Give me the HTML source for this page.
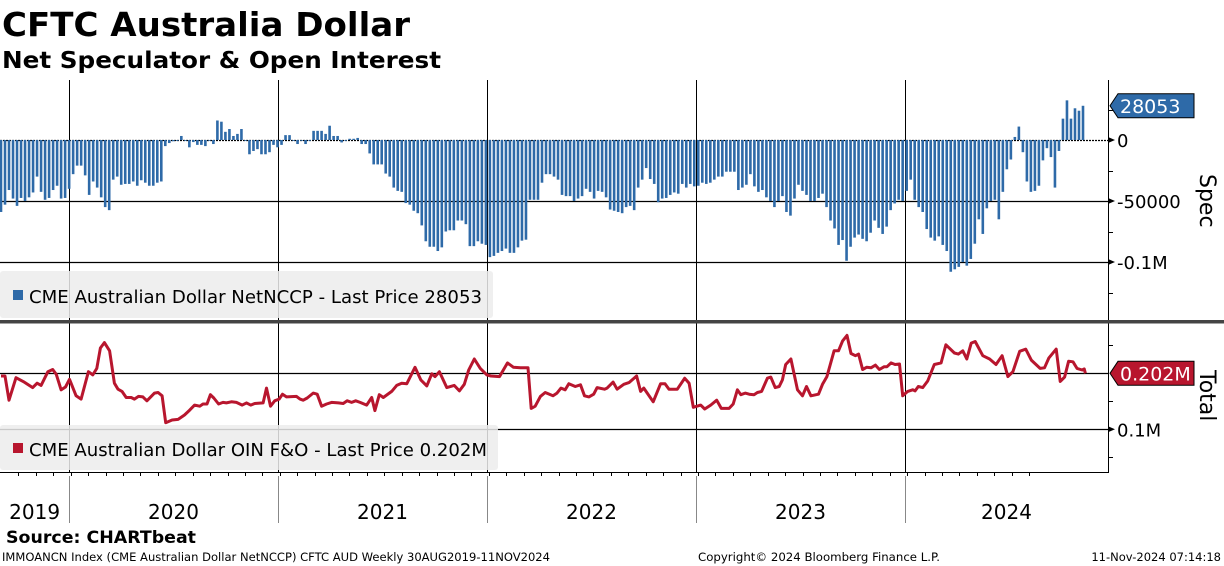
<!DOCTYPE html>
<html><head><meta charset="utf-8"><style>
html,body{margin:0;padding:0;background:#fff;}
svg{display:block;font-family:"DejaVu Sans","Liberation Sans",sans-serif;}
</style></head><body>
<svg id="chart" width="1224" height="566" viewBox="0 0 1224 566" xmlns="http://www.w3.org/2000/svg">
<rect width="1224" height="566" fill="#fff"/>
<text x="2" y="36" font-size="33" font-weight="bold" textLength="408" lengthAdjust="spacingAndGlyphs">CFTC Australia Dollar</text>
<text x="2" y="68" font-size="23" font-weight="bold" textLength="439" lengthAdjust="spacingAndGlyphs">Net Speculator &amp; Open Interest</text>
<g id="grid"></g>
<g id="bars"></g>
<g id="line"></g>
<g>
<rect x="0" y="271" width="493" height="47" rx="3" fill="#ececec" fill-opacity="0.85"/>
<rect x="13" y="290" width="10" height="10" fill="#2e6aa8"/>
<text x="29" y="303" font-size="18" textLength="453" lengthAdjust="spacingAndGlyphs">CME Australian Dollar NetNCCP - Last Price 28053</text>
</g>
<g>
<rect x="0" y="425" width="498" height="45" rx="3" fill="#ececec" fill-opacity="0.85"/>
<rect x="13" y="443" width="10" height="10" fill="#b8162e"/>
<text x="29" y="456" font-size="18" textLength="458" lengthAdjust="spacingAndGlyphs">CME Australian Dollar OIN F&amp;O - Last Price 0.202M</text>
</g>
<g id="axes"></g>
<rect x="0" y="320" width="1224" height="3.5" fill="#444"/>
<text x="6" y="543" font-size="17" font-weight="bold" textLength="190" lengthAdjust="spacingAndGlyphs">Source: CHARTbeat</text>
<text x="2" y="561" font-size="11.5" textLength="548" lengthAdjust="spacingAndGlyphs">IMMOANCN Index (CME Australian Dollar NetNCCP) CFTC AUD  Weekly 30AUG2019-11NOV2024</text>
<text x="698" y="561" font-size="11.5" textLength="242" lengthAdjust="spacingAndGlyphs">Copyright© 2024 Bloomberg Finance L.P.</text>
<text x="1221" y="561" font-size="11.5" text-anchor="end">11-Nov-2024 07:14:18</text>
</svg>
<script>
const specValues = [-59,-53,-41,-48,-54,-47.5,-50,-47,-43,-30,-42.5,-49,-47.5,-41,-37.5,-48,-47.5,-40,-28,-21,-21,-29,-45,-34,-39,-47,-55,-57.5,-32.5,-30,-36.7,-36,-36,-34,-37.5,-33,-35,-37.5,-37.5,-35,-34,-5,-2.5,-1,-0.5,3.3,0,-6,-1.7,-4,-4,-5,0,-3.3,16,15,6.7,9,3.3,5,9,0,-11.7,-9,-7.5,-11.7,-11.7,-10,-4,-6,-4,4,4,0,-3.3,
0,-3.3,0,7.5,7.5,7.5,5,11.7,3.3,3.3,-2,0,1,1,1.7,-3.3,-3.3,-11,-20,-20,-20,-27.5,-30,-39,-41.7,-42.5,-51.7,-53,-58,-60,-70,-83,-87.5,-87.5,-91,-88,-75,-74,-74,-66,-66,-69,-87,-87,-83,-85,-86,-96,-95,-92.5,-91,-89,-92.5,-92.5,-88,-82.5,-81.7,-49,-49,-49,-35,-28,-28,-30,-32.5,-45,-46,-46,-50,-48,-46,-40,
-42.5,-48,-41.7,-42.5,-47,-57,-58,-59,-60,-55,-54,-57.5,-39,-32.5,-23,-32,-36,-51,-48,-47.5,-45,-43,-44,-36,-39,-36,-38,-37.5,-35,-36,-35,-32.5,-30,-30,-26,-26,-26,-41,-39,-36.7,-28,-38,-42.5,-41,-47,-50,-55,-50,-46,-59,-62,-48,-36.7,-41.7,-45,-50,-50,-47.5,-44,-55,-66,-72.5,-86,-82,-99,-87.5,-80,-77.5,-81,-83,-76,-66,-72,
-77,-71,-57.5,-52,-49,-50,-41.7,-32.5,-49,-55,-59,-73,-80,-82.5,-79,-86,-91,-108,-106,-104,-100,-103,-97.5,-85,-65,-77,-56,-50,-49,-65,-42.5,-24,-16,2.5,11,-10,-34,-42.5,-41.7,-37.5,-16.7,-6.7,-14,-39,-9,17.5,32.5,17.5,26,24,28.053];
const oiWeeks = [0,1,2,3.75,5.8,7.9,9,10,11.7,12.9,13.8,15,16.1,17.1,18.75,20,21.8,22.9,23.9,24.8,25.8,27.1,28.3,29.2,30.2,31.25,32.5,33.3,34.3,35.4,36.4,38.3,39.2,40.2,41.1,42.7,44.2,45.8,47.1,48.3,49.6,50.4,51.4,52.25,53.1,54.3,55.4,56.25,57.5,58.75,60.2,61.25,62.3,63.3,65.4,66.25,67.25,68.3,69.4,70.25,71.25,73.75,74.6,75.4,76.4,77.9,78.9,80,81.25,82.5,84.2,85.4,86.4,87.5,88.5,89.6,91.25,92.5,
93.3,94.4,95.4,97.5,98.75,100,101.25,103.3,104.75,106.25,107.5,108.3,109.4,111.25,113.1,114.4,115.6,116.7,118.1,119.6,121.25,122.25,124.4,126.4,127.9,129.6,131.5,132.3,133.3,134.6,135.8,137.75,138.75,139.75,140.8,141.7,143.3,144.6,145.6,146.7,147.9,148.75,150.6,151.25,152.75,153.75,155.4,156.7,158.6,159.6,160.4,162.75,164.6,165.7,166.7,168.75,170.6,171.7,172.75,174.6,175.6,177.1,178.6,179.75,181.7,182.7,183.75,
184.6,185.7,186.7,187.9,188.75,189.8,191.25,192.1,193.2,194.2,195,195.8,197.1,198.75,200,201,202.1,204,205,206.1,207.9,209,210,211.1,212.1,213.2,214,215,216,217.1,218.2,219.2,220.4,221.1,222.1,223.1,224.2,225,226.25,227.5,228.1,228.9,230,231.25,232.9,234.6,235.8,237.9,238.9,240,241,242.1,243.1,245,246.7,248.3,249.8,251.25,252.5,254.2,255.7,257.1,259.3,260.4,261.5,263.3,264.3,265.4,266.4,267.5,268.5,269.8,270.3,270.6];
const oiValues = [197,197,153,194,186,176,184,180,205,209,200,172,177,191,161,155,205,199,211,248,258,243,184,173,169,158,158,155,160,159,152,166,167,161,112,117,118,126,135,144,142,146,146,163,157,146,149,148,150,149,144,148,144,147,148,175,142,152,155,164,159,160,155,153,157,166,164,142,146,149,148,147,152,149,152,149,144,158,
134,163,158,169,180,184,183,213,190,179,201,196,205,176,180,170,182,208,228,211,199,197,196,221,213,212,212,138,142,160,167,161,166,175,172,183,178,181,161,159,164,176,173,175,186,173,182,185,197,169,175,150,183,183,173,173,193,184,140,144,137,144,153,138,138,146,172,
163,166,164,163,167,169,193,195,176,178,190,218,228,172,161,178,161,164,182,196,243,243,261,271,238,234,237,209,213,212,217,209,214,214,221,218,219,161,169,172,170,178,176,188,218,221,254,239,237,243,228,257,260,234,228,218,234,196,205,242,246,226,211,212,230,246,187,195,224,223,211,208,210,202];
const yearLabels = ["2019","2020","2021","2022","2023","2024"];
const yearStartWeeks = [-17.4,17.0,69.1,121.3,173.4,225.6];
const specTicks = [0,-50,-100];
const specTickLabels = ["0","-50000","-0.1M"];
const oiTicks = [202,100];
const oiTickLabels = ["0.202M","0.1M"];

const NS="http://www.w3.org/2000/svg";
const X0=1, X1=1083, AX=1108;
const nW = specValues.length-1;
function xScale(w){return X0 + w*(X1-X0)/nW;}
function ySpec(v){return 140 - v*1.22;}
function yOi(v){return 373.3 - (v-202)*0.549;}
function mk(tag,attrs,parent){const e=document.createElementNS(NS,tag);for(const k in attrs)e.setAttribute(k,attrs[k]);parent.appendChild(e);return e;}

const grid=document.getElementById('grid');
yearStartWeeks.forEach((w,i)=>{
  if(i===0) return;
  const x=Math.round(xScale(w))+0.5;
  const l=mk('line',{x1:x,x2:x,y1:80,y2:472,stroke:'#000','stroke-width':1},grid);
  
  
  const s=mk('line',{x1:x,x2:x,y1:476,y2:523,stroke:'#888','stroke-width':1},grid);
  
  
});
specTicks.forEach((v)=>{
  const y=Math.round(ySpec(v))+0.5;
  const l=mk('line',{x1:0,x2:AX,y1:y,y2:y,stroke:'#000','stroke-width':1.3},grid);
  if(v===0) l.setAttribute('stroke-dasharray','2,1');
  
  
});
oiTicks.forEach((v)=>{
  const y=Math.round(yOi(v))+0.5;
  const l=mk('line',{x1:0,x2:AX,y1:y,y2:y,stroke:'#000','stroke-width':1.3},grid);
  
  
});

const bars=document.getElementById('bars');
specValues.forEach((v,i)=>{
  const x=xScale(i);
  const y0=ySpec(0), y1=ySpec(v);
  const r=mk('rect',{x:(x-1.3).toFixed(2),y:Math.min(y0,y1).toFixed(2),width:2.6,height:Math.max(0.8,Math.abs(y1-y0)).toFixed(2),fill:'#2e6aa8'},bars);
  
  
});

const lg=document.getElementById('line');
const pts=oiWeeks.map((w,i)=>xScale(w).toFixed(1)+','+yOi(oiValues[i]).toFixed(1)).join(' ');
const pl=mk('polyline',{points:pts,fill:'none',stroke:'#b8162e','stroke-width':3,'stroke-linejoin':'round'},lg);



const ax=document.getElementById('axes');
const a1=mk('line',{x1:AX+0.5,x2:AX+0.5,y1:80,y2:320,stroke:'#000','stroke-width':1},ax);


const a2=mk('polyline',{points:`0,472.5 ${AX+0.5},472.5 ${AX+0.5},323`,fill:'none',stroke:'#000','stroke-width':1},ax);


[25,-25,-75,-125].forEach(v=>{
  const y=Math.round(ySpec(v))+0.5;
  const t=mk('line',{x1:AX,x2:AX+5,y1:y,y2:y,stroke:'#000'},ax);
  
  
});
[253,151,49].forEach(v=>{
  const y=Math.round(yOi(v))+0.5;
  const t=mk('line',{x1:AX,x2:AX+5,y1:y,y2:y,stroke:'#000'},ax);
  
  
});
specTicks.forEach((v,i)=>{
  const y=ySpec(v);
  const a=mk('polygon',{points:`${AX},${y-3} ${AX+7},${y} ${AX},${y+3}`,fill:'#000'},ax);
  
  
  const t=mk('text',{x:AX+9,y:y+7,'font-size':18},ax);
  t.textContent=specTickLabels[i];
  
  
});
oiTicks.forEach((v,i)=>{
  if(i===0) return;
  const y=yOi(v);
  const a=mk('polygon',{points:`${AX},${y-3} ${AX+7},${y} ${AX},${y+3}`,fill:'#000'},ax);
  
  
  const t=mk('text',{x:AX+9,y:y+7,'font-size':18},ax);
  t.textContent=oiTickLabels[i];
  
  
});
for(let m=0;m<64;m++){
  const w=-17.4 + m*52.18/12;
  const x=Math.round(xScale(w))+0.5;
  if(x<2||x>AX) continue;
  const t=mk('line',{x1:x,x2:x,y1:472,y2:476,stroke:'#000'},ax);
  
  
}
yearLabels.forEach((lab,i)=>{
  const s=Math.max(xScale(yearStartWeeks[i]),0);
  const e=i<yearLabels.length-1?xScale(yearStartWeeks[i+1]):AX;
  const t=mk('text',{x:((s+e)/2).toFixed(1),y:519,'font-size':20,'text-anchor':'middle'},ax);
  t.textContent=lab;
  
  
});
function tag(y,label,color,name){
  const g=mk('g',{},ax);
  
  
  mk('polygon',{points:`${AX+2},${y} ${AX+10},${y-12} ${AX+86},${y-12} ${AX+86},${y+12} ${AX+10},${y+12}`,fill:color,stroke:'#000','stroke-width':1},g);
  const t=mk('text',{x:AX+12,y:y+7,'font-size':19,fill:'#fff'},g);
  t.textContent=label;
}
tag(ySpec(specValues[specValues.length-1]),"28053",'#2e6aa8','spec-last-value-tag');
tag(yOi(oiTicks[0]),oiTickLabels[0],'#b8162e','oi-last-value-tag');
const st=mk('text',{x:0,y:0,'font-size':22,transform:'translate(1200,174) rotate(90)'},ax);
st.textContent='Spec';


const tt=mk('text',{x:0,y:0,'font-size':22,transform:'translate(1200,370) rotate(90)'},ax);
tt.textContent='Total';


</script>
</body></html>
